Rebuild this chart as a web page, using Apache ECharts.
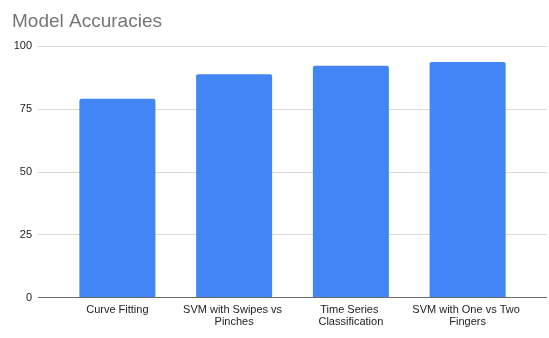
<!DOCTYPE html>
<html>
<head>
<meta charset="utf-8">
<script src="https://cdn.jsdelivr.net/npm/echarts@6/dist/echarts.min.js"></script>
<style>
  html, body { margin: 0; padding: 0; background: #fff; }
  #chart { width: 549px; height: 338px; }
</style>
</head>
<body>
<div id="chart"></div>
<script>
// Model accuracy per approach (percent)
const categories = [
  'Curve Fitting',
  'SVM with Swipes vs Pinches',
  'Time Series Classification',
  'SVM with One vs Two Fingers'
];
const accuracies = [79, 88.8, 92.1, 93.6];
const yTicks = [0, 25, 50, 75, 100];

const FONT = '"Liberation Sans", Arial, sans-serif';
const gridTop = 46, gridBottom = 40.5;

const chart = echarts.init(document.getElementById('chart'), null, { renderer: 'canvas' });
chart.setOption({
  animation: false,
  backgroundColor: '#ffffff',
  title: {
    text: 'Model Accuracies',
    left: 7, top: 7,
    textStyle: { fontFamily: FONT, fontSize: 19, fontWeight: 'normal', color: '#757575' }
  },
  grid: [
    // full-width grid: gridlines, y labels and the baseline
    { left: 38, right: 2, top: gridTop, bottom: gridBottom },
    // inner grid holding the bars and category labels
    { left: 59, width: 467, top: gridTop, bottom: gridBottom }
  ],
  xAxis: [
    {
      gridIndex: 0, type: 'value', min: 0, max: 1,
      axisLine: { show: false }, axisTick: { show: false },
      axisLabel: { show: false }, splitLine: { show: false }
    },
    {
      gridIndex: 1, type: 'category', data: categories,
      axisLine: { show: false }, axisTick: { show: false },
      axisLabel: {
        interval: 0, margin: 6, color: '#222', fontFamily: FONT, fontSize: 11,
        lineHeight: 12, width: 116, overflow: 'break'
      }
    }
  ],
  yAxis: [
    {
      gridIndex: 0, type: 'value', min: yTicks[0], max: yTicks[yTicks.length - 1],
      interval: yTicks[1] - yTicks[0],
      axisLine: { show: false }, axisTick: { show: false },
      axisLabel: { margin: 6, color: '#222', fontFamily: FONT, fontSize: 11 },
      splitLine: { lineStyle: { color: '#d9d9d9', width: 1 } }
    },
    {
      gridIndex: 1, type: 'value', min: yTicks[0], max: yTicks[yTicks.length - 1],
      show: false, splitLine: { show: false }
    }
  ],
  series: [
    {
      type: 'bar', xAxisIndex: 1, yAxisIndex: 1,
      data: accuracies, barWidth: 76, z: 2,
      itemStyle: { color: '#4285f4', borderRadius: [2, 2, 0, 0] }
    },
    {
      // baseline at zero across the full plot width
      type: 'line', xAxisIndex: 0, yAxisIndex: 0, silent: true, symbol: 'none', z: 3,
      data: [[0, 0], [1, 0]],
      lineStyle: { color: '#6b6b6b', width: 1.2 }
    }
  ]
});
</script>
</body>
</html>
